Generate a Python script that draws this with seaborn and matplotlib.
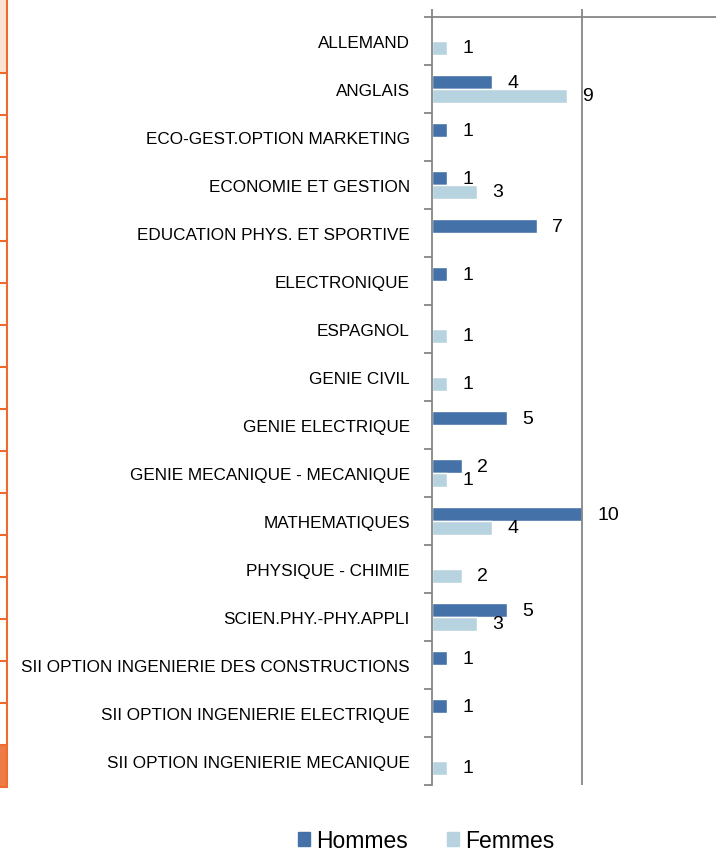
import matplotlib
matplotlib.use("Agg")
import numpy as np
import pandas as pd
import seaborn as sns
import matplotlib.pyplot as plt
from matplotlib.lines import Line2D
from matplotlib.patches import Rectangle

# The data
categories = [
    "ALLEMAND", "ANGLAIS", "ECO-GEST.OPTION MARKETING", "ECONOMIE ET GESTION",
    "EDUCATION PHYS. ET SPORTIVE", "ELECTRONIQUE", "ESPAGNOL", "GENIE CIVIL",
    "GENIE ELECTRIQUE", "GENIE MECANIQUE - MECANIQUE", "MATHEMATIQUES",
    "PHYSIQUE - CHIMIE", "SCIEN.PHY.-PHY.APPLI",
    "SII OPTION INGENIERIE DES CONSTRUCTIONS",
    "SII OPTION INGENIERIE ELECTRIQUE", "SII OPTION INGENIERIE MECANIQUE",
]
hommes = [0, 4, 1, 1, 7, 1, 0, 0, 5, 2, 10, 0, 5, 1, 1, 0]
femmes = [1, 9, 0, 3, 0, 0, 1, 1, 0, 1, 4, 2, 3, 0, 0, 1]
series = ["Hommes", "Femmes"]
colors = ["#4472A8", "#B7D3DF"]

W, H = 716, 853
df = pd.DataFrame({
    "cat": categories * 2,
    "val": hommes + femmes,
    "serie": [series[0]] * len(categories) + [series[1]] * len(categories),
})

sns.set_theme(style="white")
plt.rcParams["font.family"] = ["Liberation Sans", "DejaVu Sans"]
plt.rcParams["text.color"] = "black"

fig = plt.figure(figsize=(W / 100, H / 100), dpi=100)
ax = fig.add_axes([432 / W, 1 - 786 / H, (716 - 432) / W, (786 - 18) / H])

sns.barplot(data=df, x="val", y="cat", hue="serie", orient="h",
            palette=colors, width=0.58, saturation=1, ax=ax, legend=False)

ax.set_xlim(0, (716 - 432) / 15)
ax.set_ylim(len(categories) - 0.5, -0.5)
ax.set_xlabel("")
ax.set_ylabel("")

grey = "#868686"
for s in ["right", "bottom"]:
    ax.spines[s].set_visible(False)
for s in ["top", "left"]:
    ax.spines[s].set_color(grey)
    ax.spines[s].set_linewidth(1.3)
ax.axvline(10, color=grey, lw=1.3)

ax.xaxis.tick_top()
ax.set_xticks([0, 10])
ax.set_xticklabels([])
ax.tick_params(axis="x", which="major", length=6, width=1.3, color=grey, direction="out")

ax.set_yticks(np.arange(len(categories)))
ax.set_yticklabels(categories, fontsize=12.3, color="black")
ax.set_yticks(np.arange(len(categories) + 1) - 0.5, minor=True)
ax.tick_params(axis="y", which="major", length=0, pad=16)
ax.tick_params(axis="y", which="minor", length=6, width=1.3, color=grey, direction="out", left=True)

for cont, vals in zip(ax.containers, [hommes, femmes]):
    ax.bar_label(cont, labels=[str(v) if v else "" for v in vals],
                 padding=11, fontsize=14, color="black")

# legend
handles = [Rectangle((0, 0), 1, 1, color=c) for c in colors]
fig.legend(handles, series, loc="center", bbox_to_anchor=(426 / W, 1 - 842 / H),
           ncol=2, frameon=False, fontsize=16.5, handlelength=0.55, handleheight=0.55,
           handletextpad=0.25, columnspacing=1.7)

# orange border from the spreadsheet on the left
orange = "#EE6A2F"
fig.add_artist(Rectangle((0, 1 - 74 / H), 7 / W, 74 / H, color="#FBE3D4", lw=0))
fig.add_artist(Rectangle((0, 1 - 788 / H), 7 / W, 42 / H, color="#EE7A45", lw=0))
fig.add_artist(Line2D([7 / W, 7 / W], [1 - 788 / H, 1], color=orange, lw=1.5))
for y in np.linspace(74, 746, 17):
    fig.add_artist(Line2D([0, 7 / W], [1 - y / H, 1 - y / H], color=orange, lw=1.5))
fig.add_artist(Line2D([0, 7 / W], [1 - 788 / H, 1 - 788 / H], color=orange, lw=1.5))

fig.savefig("out.png", dpi=100)
